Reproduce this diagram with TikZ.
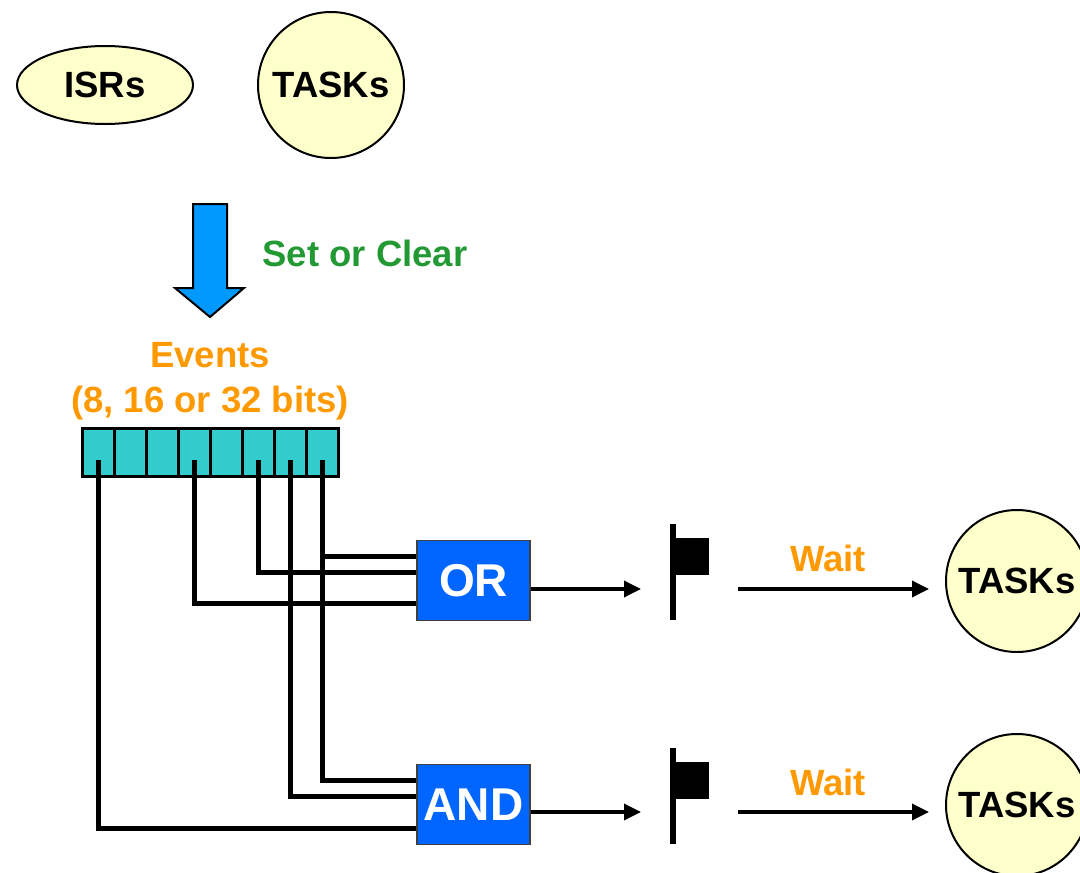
\documentclass[tikz,border=0pt]{standalone}
\usepackage{fontspec}
\setmainfont{Liberation Sans}
\usetikzlibrary{arrows.meta,shapes.geometric}

\definecolor{paleyellow}{HTML}{FFFFCC}
\definecolor{regteal}{HTML}{33CCCC}
\definecolor{gateblue}{HTML}{0066FF}
\definecolor{arrowblue}{HTML}{0099FF}
\definecolor{setgreen}{HTML}{229933}
\definecolor{evorange}{HTML}{FF9900}

\newcommand{\lblfont}{\fontsize{36.5}{40}\selectfont\bfseries}
\newcommand{\gatefont}{\fontsize{46}{50}\selectfont\bfseries}

\begin{document}
\begin{tikzpicture}[x=1pt,y=-1pt,
  bubble/.style={draw=black, line width=2, fill=paleyellow, inner sep=0, font=\lblfont},
  gatebox/.style={draw=black!75, line width=1.5, fill=gateblue, minimum width=113,
    minimum height=80, inner sep=0, text=white, font=\gatefont},
  bitcell/.style={draw=black, line width=3, fill=regteal, minimum width=32,
    minimum height=48, inner sep=0},
  wire/.style={line width=5, line join=miter},
  sig/.style={line width=3.5, -{Triangle[length=17,width=16]}},
  evlbl/.style={text=evorange, font=\lblfont, inner sep=0},
]
\useasboundingbox (0,0) rectangle (1080,873);

% producers
\node[bubble, ellipse, minimum width=176, minimum height=78] (isr) at (105,85) {ISRs};
\node[bubble, circle, minimum size=146] (tasktop) at (331,85) {TASKs};

% set / clear arrow
\draw[black, line width=2, fill=arrowblue, line join=miter]
  (193,204) -- (227,204) -- (227,288) -- (244,288) -- (210,317)
  -- (175,288) -- (193,288) -- cycle;
\node[text=setgreen, font=\lblfont, anchor=base, inner sep=0] (setclr) at (365,266) {Set or Clear};

% event register
\node[evlbl, anchor=base] (events) at (210,367) {Events};
\node[evlbl, anchor=base] (bits) at (210,412) {(8, 16 or 32 bits)};
\foreach \i in {0,...,7}
  \node[bitcell] (b\i) at (98+32*\i,452) {};

% gates
\node[gatebox] (org) at (473.5,580.5) {OR};
\node[gatebox] (andg) at (473.5,804.5) {AND};

% bit taps into the gates
\draw[wire] ([yshift=-8pt]b0.center) |- (andg.west |- 0,828);
\draw[wire] ([yshift=-8pt]b3.center) |- (org.west |- 0,603);
\draw[wire] ([yshift=-8pt]b5.center) |- (org.west |- 0,572);
\draw[wire] ([yshift=-8pt]b6.center) |- (andg.west |- 0,796);
\draw[wire] ([yshift=-8pt]b7.center) |- (andg.west |- 0,780);
\draw[wire] (b7.center |- 0,556) -- (org.west |- 0,556);

% flags
\draw[line width=6] (673,524) -- (673,620);
\fill (676,538) rectangle (709,575);
\draw[line width=6] (673,748) -- (673,844);
\fill (676,762) rectangle (709,799);

\coordinate (flagA) at (641,589);
\coordinate (flagB) at (641,812);
\coordinate (waitA) at (738,589);
\coordinate (waitB) at (738,812);

% waiting tasks
\node[bubble, circle, minimum size=142] (taskA) at (1017,581) {TASKs};
\node[bubble, circle, minimum size=142] (taskB) at (1017,805) {TASKs};

\draw[sig] (org.east |- flagA) -- (flagA);
\draw[sig] (andg.east |- flagB) -- (flagB);
\draw[sig, shorten >=16] (waitA) -- (taskA.west |- waitA);
\draw[sig, shorten >=16] (waitB) -- (taskB.west |- waitB);

\node[evlbl, anchor=base] (waitlblA) at (828,571) {Wait};
\node[evlbl, anchor=base] (waitlblB) at (828,795) {Wait};
\end{tikzpicture}
\end{document}
